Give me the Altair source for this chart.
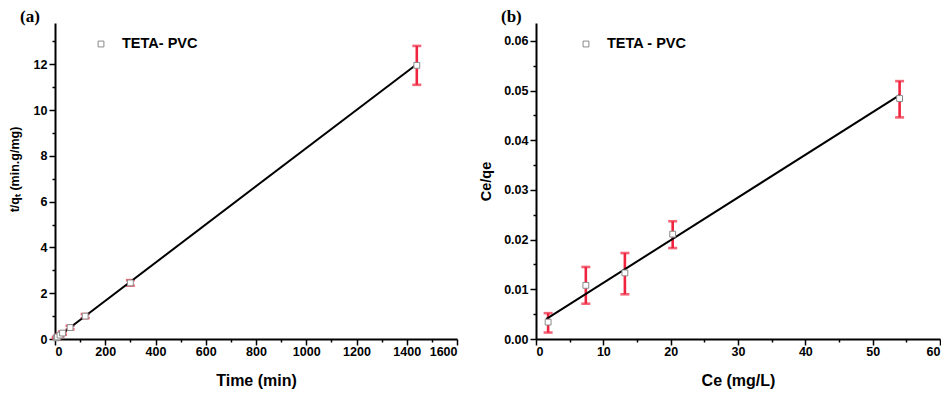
import altair as alt
import pandas as pd

# ---------- panel (a): pseudo-second-order kinetics ----------
time_min = [5, 10, 20, 30, 60, 120, 300, 1440]
t_qt = [0.05, 0.09, 0.17, 0.26, 0.50, 1.00, 2.45, 11.95]
t_qt_err = [0.04, 0.05, 0.06, 0.07, 0.08, 0.09, 0.12, 0.85]
fit_a_x = [0, 1440]
fit_a_y = [0.0, 12.0]

# ---------- panel (b): isotherm ----------
ce = [1.8, 7.4, 13.2, 20.3, 54.0]
ce_qe = [0.0034, 0.0108, 0.0133, 0.0211, 0.0484]
ce_qe_low = [0.0013, 0.0071, 0.0090, 0.0183, 0.0446]
ce_qe_high = [0.0052, 0.0145, 0.0173, 0.0237, 0.0519]
fit_b_x = [1.5, 54.0]
fit_b_y = [0.0040, 0.0491]

series_a = ["TETA- PVC"]
series_b = ["TETA - PVC"]
panel_labels = ["(a)", "(b)"]

RED = "#f0243f"
FONT = "Liberation Sans"
H = 316


def make_axis(values, test, fmt, title, title_size, title_pad, label_pad=2, title_y=None):
    kw = {}
    if title_y is not None:
        kw["titleY"] = title_y
    return alt.Axis(
        values=values,
        format=fmt,
        labelExpr=f"({test}) ? datum.label : ''",
        tickSize={"condition": {"test": test, "value": 6}, "value": 3},
        grid=False,
        title=title,
        titleFontSize=title_size,
        titlePadding=title_pad,
        labelPadding=label_pad,
        **kw,
    )


def panel(df, fit_df, xfield, yfield, lofield, hifield, xscale, yscale, xaxis, yaxis,
          legend_label, panel_label, width, leg_x):
    base = alt.Chart(df)
    x = alt.X(f"{xfield}:Q", scale=xscale, axis=xaxis)
    y = alt.Y(f"{yfield}:Q", scale=yscale, axis=yaxis)
    err = base.mark_rule(color=RED, strokeWidth=2.6).encode(
        x=x, y=alt.Y(f"{lofield}:Q", scale=yscale, axis=yaxis), y2=f"{hifield}:Q"
    )
    cap_lo = base.mark_tick(color=RED, orient="horizontal", size=9, thickness=2.6).encode(
        x=x, y=alt.Y(f"{lofield}:Q", scale=yscale, axis=yaxis)
    )
    cap_hi = base.mark_tick(color=RED, orient="horizontal", size=9, thickness=2.6).encode(
        x=x, y=alt.Y(f"{hifield}:Q", scale=yscale, axis=yaxis)
    )
    fit = alt.Chart(fit_df).mark_line(color="black", strokeWidth=2).encode(
        x=alt.X("fx:Q", scale=xscale, axis=xaxis), y=alt.Y("fy:Q", scale=yscale, axis=yaxis)
    )
    pts = base.mark_point(shape="square", size=34, filled=False, fill="white",
                          fillOpacity=1, color="#8a8a8a", strokeWidth=1, opacity=1).encode(x=x, y=y)
    leg_df = pd.DataFrame({"label": [legend_label]})
    leg_pt = alt.Chart(leg_df).mark_point(shape="square", size=34, filled=False,
                                          color="#8a8a8a", strokeWidth=1, opacity=1).encode(
        x=alt.value(leg_x), y=alt.value(21)
    )
    leg_txt = alt.Chart(leg_df).mark_text(align="left", baseline="middle", font=FONT,
                                          fontWeight="bold", fontSize=14.5, color="black").encode(
        x=alt.value(leg_x + 21), y=alt.value(21), text="label:N"
    )
    lab_df = pd.DataFrame({"label": [panel_label]})
    lab = alt.Chart(lab_df).mark_text(align="left", baseline="top", font="Liberation Serif",
                                      fontWeight="bold", fontSize=17, color="black").encode(
        x=alt.value(-35), y=alt.value(-14), text="label:N"
    )
    return alt.layer(err, cap_lo, cap_hi, fit, pts, leg_pt, leg_txt, lab).properties(
        width=width, height=H
    )


df_a = pd.DataFrame({
    "t": time_min,
    "v": t_qt,
    "lo": [v - e for v, e in zip(t_qt, t_qt_err)],
    "hi": [v + e for v, e in zip(t_qt, t_qt_err)],
})
fit_a = pd.DataFrame({"fx": fit_a_x, "fy": fit_a_y})

df_b = pd.DataFrame({"c": ce, "v": ce_qe, "lo": ce_qe_low, "hi": ce_qe_high})
fit_b = pd.DataFrame({"fx": fit_b_x, "fy": fit_b_y})

xs_a = alt.Scale(domain=[0, 1600], nice=False, zero=False)
ys_a = alt.Scale(domain=[0, 13.8], nice=False, zero=False)
xa_a = make_axis(list(range(0, 1601, 100)), "datum.value % 200 == 0", "d", "Time (min)", 16, 15, 0)
ya_a = make_axis(list(range(0, 14)), "datum.value % 2 == 0", "d", "t/qₜ (min.g/mg)", 12.5, 12,
                 2, 146)

xs_b = alt.Scale(domain=[0, 60], nice=False, zero=False)
ys_b = alt.Scale(domain=[0, 0.0636], nice=False, zero=False)
xa_b = make_axis(list(range(0, 61, 5)), "datum.value % 10 == 0", "d", "Ce (mg/L)", 16, 15, 0)
ya_b = make_axis([round(i * 0.005, 3) for i in range(13)],
                 "round(datum.value * 1000) % 10 == 0", ".2f", "Ce/qe", 14.5, 10)

left = panel(df_a, fit_a, "t", "v", "lo", "hi", xs_a, ys_a, xa_a, ya_a,
             series_a[0], panel_labels[0], 402, 46)
right = panel(df_b, fit_b, "c", "v", "lo", "hi", xs_b, ys_b, xa_b, ya_b,
              series_b[0], panel_labels[1], 404, 50)

chart = alt.hconcat(left, right, spacing=20).properties(
    padding={"left": 0, "top": 0, "right": 0, "bottom": 0}
).configure_view(stroke=None).configure_axis(
    labelFont=FONT, labelFontWeight="bold", labelFontSize=12.5, labelColor="black",
    titleFont=FONT, titleFontWeight="bold", titleColor="black",
    domainColor="black", domainWidth=2, tickColor="black", tickWidth=1.5,
)

chart.save("out.html", embed_options={"renderer": "svg", "actions": False})
